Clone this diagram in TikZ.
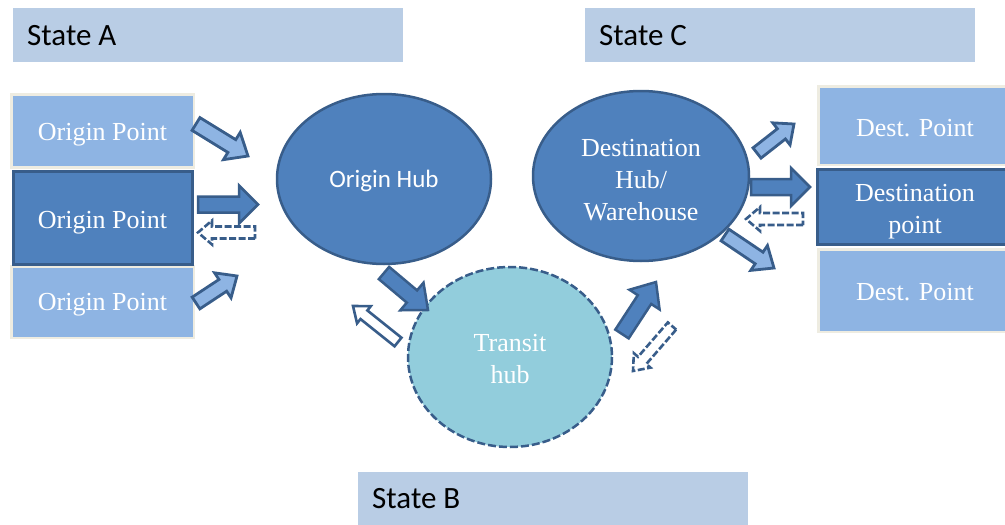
\documentclass[tikz,border=0pt]{standalone}
\usepackage{fontspec}
\setmainfont{Liberation Serif}
\newfontfamily\calib{Carlito}
\usetikzlibrary{calc}
\definecolor{lightblue}{HTML}{8EB4E3}
\definecolor{darkblue}{HTML}{4F81BD}
\definecolor{edgeblue}{HTML}{385D8A}
\definecolor{labelblue}{HTML}{B9CDE5}
\definecolor{transitblue}{HTML}{92CDDC}
\definecolor{beige}{HTML}{EEECE1}
\tikzset{
  statebox/.style={fill=labelblue, draw=none, minimum width=390pt, minimum height=54pt, inner sep=0pt},
  statetext/.style={font=\calib\fontsize{31}{34}\selectfont, text=black, anchor=west, inner sep=0pt},
  lightbox/.style={fill=lightblue, draw=beige, line width=2.5pt, inner sep=0pt},
  darkbox/.style={fill=darkblue, draw=edgeblue, line width=2.5pt, inner sep=0pt},
  boxtext/.style={font=\fontsize{26}{32}\selectfont, text=white, align=center, inner sep=0pt},
  lightarrow/.style={fill=lightblue, draw=edgeblue, line width=2.8pt, line join=miter},
  darkarrow/.style={fill=darkblue, draw=edgeblue, line width=2.5pt, line join=miter},
  hollowarrow/.style={fill=white, draw=edgeblue, line width=2.6pt, line join=miter},
  dasharrow/.style={fill=white, draw=edgeblue, line width=2.6pt, dash pattern=on 7pt off 2.5pt, line join=miter},
}
% block arrow: #1 style, #2 tail, #3 tip, #4 half shaft, #5 half head, #6 head length
\newcommand\blockarrow[6]{%
  \coordinate (bamid) at ($(#3)!#6!(#2)$);
  \draw[#1] ($(#2)!#4!90:(#3)$) -- ($(bamid)!#4!-90:(#2)$) -- ($(bamid)!#5!-90:(#2)$) -- (#3)
    -- ($(bamid)!#5!90:(#2)$) -- ($(bamid)!#4!90:(#2)$) -- ($(#2)!#4!-90:(#3)$) -- cycle;}
\begin{document}
\begin{tikzpicture}[x=1pt,y=-1pt]
\useasboundingbox (0,0) rectangle (1005,525);
\clip (0,0) rectangle (1005,525);
% state labels
\node[statebox] (sA) at (208,35) {};
\node[statetext] (tA) at (27,36) {State A};
\node[statebox] (sC) at (780,35) {};
\node[statetext] (tC) at (599,36) {State C};
\node[statebox] (sB) at (553,499) {};
\node[statetext] (tB) at (372,499) {State B};
% origin points
\path[lightbox] (11.25,94.25) rectangle (193.75,167.25);
\node[boxtext] (o1) at (102.5,135) {Origin Point};
\path[lightbox] (11.25,266.25) rectangle (193.75,337.75);
\node[boxtext] (o3) at (102.5,305) {Origin Point};
\path[darkbox] (13.25,171.25) rectangle (192.25,264.25);
\node[boxtext] (o2) at (102.5,223) {Origin Point};
% destination points
\path[lightbox] (818.25,86.25) rectangle (1015,164.75);
\node[boxtext] (d1) at (915,128) {Dest. Point};
\path[lightbox] (818.25,249.25) rectangle (1015,331.75);
\node[boxtext] (d3) at (915,292) {Dest. Point};
\path[darkbox] (817.25,169.25) rectangle (1015,244.25);
\node[boxtext] (d2) at (915,212) {Destination\\point};
% hubs
\draw[fill=darkblue, draw=edgeblue, line width=2.5pt] (384,179) ellipse [x radius=107, y radius=85];
\node[font=\calib\fontsize{25}{30}\selectfont, text=white, inner sep=0pt] (oh) at (384,181) {Origin Hub};
\draw[fill=darkblue, draw=edgeblue, line width=2.5pt] (641,176) ellipse [x radius=108, y radius=85];
\node[boxtext] (dh) at (641,180) {Destination\\Hub/\\Warehouse};
\draw[fill=transitblue, draw=edgeblue, line width=2.5pt, dash pattern=on 8pt off 3pt] (510,357) ellipse [x radius=102, y radius=90];
\node[boxtext] (th) at (510,359) {Transit\\hub};
% arrow end points
\coordinate (a1t) at (196,124); \coordinate (a1h) at (248,156);
\coordinate (a2t) at (198,204.5); \coordinate (a2h) at (258,204.5);
\coordinate (a3t) at (255,232.5); \coordinate (a3h) at (198,232.5);
\coordinate (a4t) at (196,303); \coordinate (a4h) at (237,276);
\coordinate (b1t) at (384,273); \coordinate (b1h) at (428,310);
\coordinate (b2t) at (398,342); \coordinate (b2h) at (353,306);
\coordinate (b3t) at (622,334); \coordinate (b3h) at (656,282);
\coordinate (b4t) at (672,326); \coordinate (b4h) at (633,371);
\coordinate (c1t) at (757,153); \coordinate (c1h) at (794,124);
\coordinate (c2t) at (751,187); \coordinate (c2h) at (810,187);
\coordinate (c3t) at (803,219); \coordinate (c3h) at (746,219);
\coordinate (c4t) at (725,235); \coordinate (c4h) at (774,268);
% arrows
\blockarrow{lightarrow}{a1t}{a1h}{7.5pt}{16pt}{19pt}
\blockarrow{darkarrow}{a2t}{a2h}{8pt}{19pt}{19pt}
\blockarrow{dasharrow}{a3t}{a3h}{6pt}{12pt}{14pt}
\blockarrow{lightarrow}{a4t}{a4h}{7pt}{15pt}{17pt}
\blockarrow{darkarrow}{b1t}{b1h}{8pt}{18pt}{21pt}
\blockarrow{hollowarrow}{b2t}{b2h}{5.5pt}{11pt}{14pt}
\blockarrow{darkarrow}{b3t}{b3h}{8pt}{18pt}{21pt}
\blockarrow{dasharrow}{b4t}{b4h}{5.5pt}{11pt}{14pt}
\blockarrow{lightarrow}{c1t}{c1h}{6.5pt}{14pt}{16pt}
\blockarrow{darkarrow}{c2t}{c2h}{8pt}{19pt}{19pt}
\blockarrow{dasharrow}{c3t}{c3h}{6pt}{12pt}{14pt}
\blockarrow{lightarrow}{c4t}{c4h}{7pt}{15pt}{18pt}
\end{tikzpicture}
\end{document}
